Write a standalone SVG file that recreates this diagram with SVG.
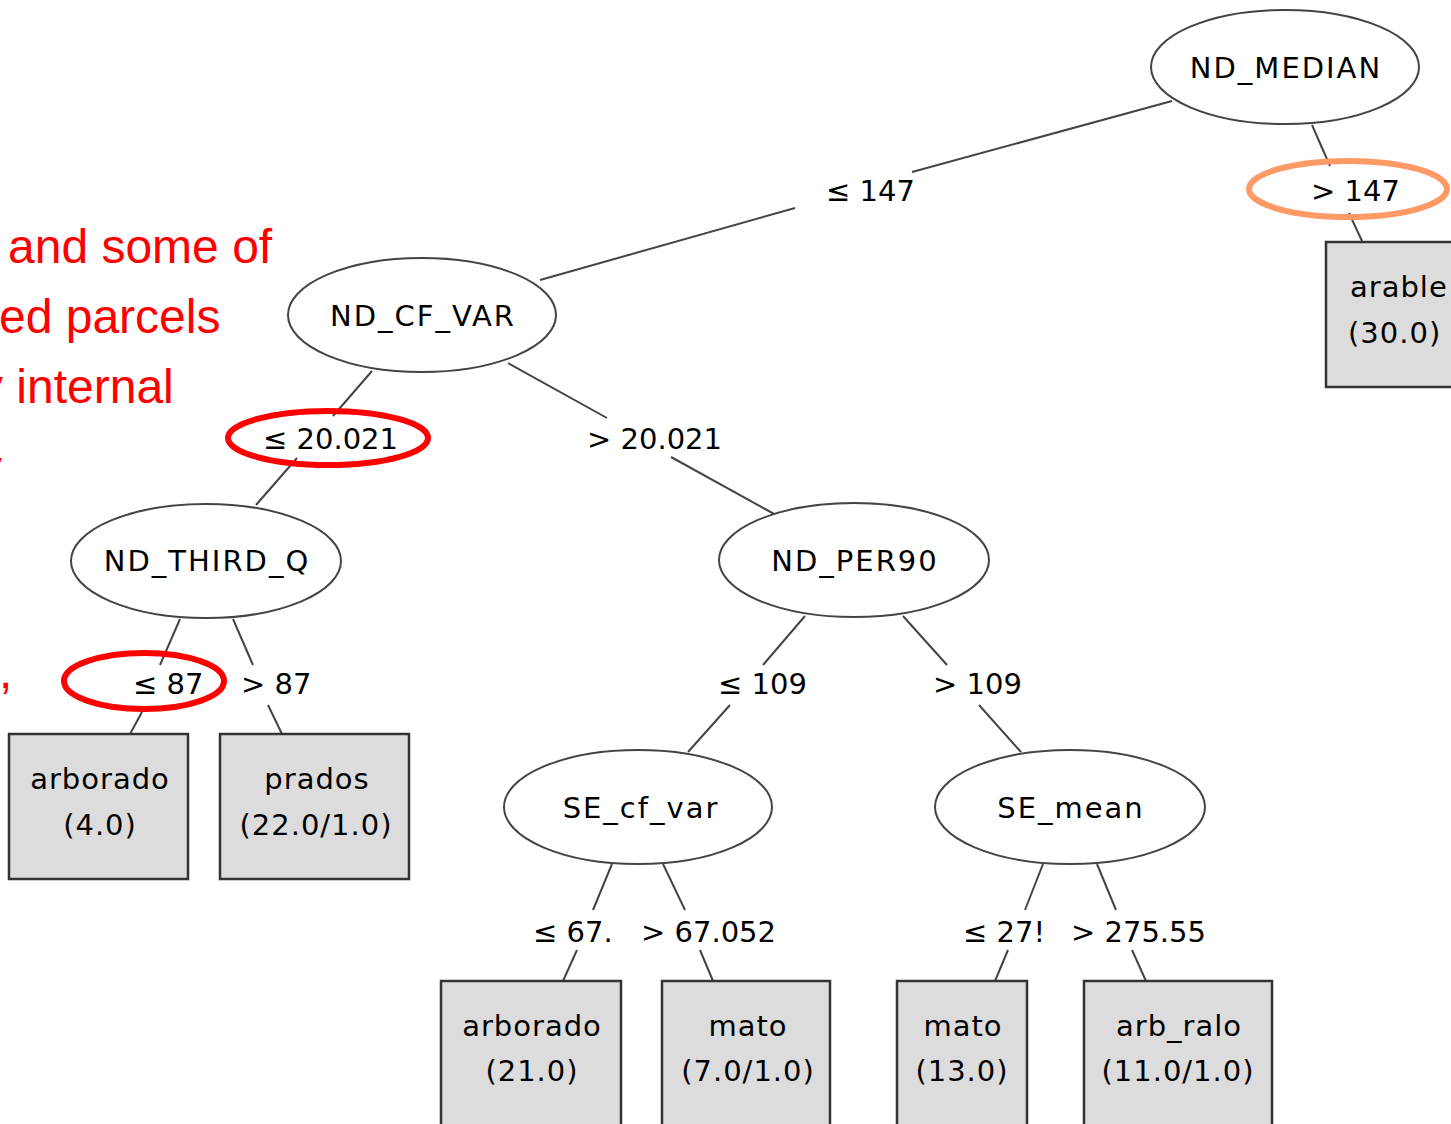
<svg xmlns="http://www.w3.org/2000/svg" width="1451" height="1124" viewBox="0 0 1451 1124">
<style>
  .node ellipse { fill: #ffffff; stroke: #444444; stroke-width: 2; }
  .leaf rect { fill: #dcdcdc; stroke: #333333; stroke-width: 2.5; }
  .ntxt { font-family: "DejaVu Sans", sans-serif; font-size: 29px; fill: #000; text-anchor: middle; letter-spacing: 2px; }
  .ltxt { font-family: "DejaVu Sans", sans-serif; font-size: 29px; fill: #000; text-anchor: middle; letter-spacing: 1px; }
  .etxt { font-family: "DejaVu Sans", sans-serif; font-size: 29px; fill: #000; }
  .conn line { stroke: #444444; stroke-width: 2; }
  .note { font-family: "Liberation Sans", Arial, sans-serif; font-size: 48px; fill: #ff0000; }
  .hl { fill: none; stroke-width: 6; }
</style>

<g id="annotation-text">
  <text class="note" x="8" y="263">and some of</text>
  <text class="note" x="-1" y="333">ed parcels</text>
  <text class="note" x="-21" y="403">y internal</text>
  <text class="note" x="-22" y="484">y</text>
  <text class="note" x="-1" y="688">,</text>
</g>

<g id="connectors" class="conn">
  <line x1="1172" y1="101" x2="912" y2="172"/>
  <line x1="795" y1="208" x2="540" y2="280"/>
  <line x1="1312" y1="125" x2="1330" y2="166"/>
  <line x1="1349" y1="213" x2="1362" y2="241"/>
  <line x1="372" y1="371" x2="333" y2="416"/>
  <line x1="297" y1="458" x2="256" y2="505"/>
  <line x1="508" y1="363" x2="607" y2="418"/>
  <line x1="671" y1="457" x2="776" y2="515"/>
  <line x1="180" y1="619" x2="160" y2="665"/>
  <line x1="142" y1="712" x2="130" y2="734"/>
  <line x1="233" y1="619" x2="253" y2="665"/>
  <line x1="268" y1="705" x2="282" y2="734"/>
  <line x1="805" y1="616" x2="763" y2="665"/>
  <line x1="730" y1="705" x2="688" y2="752"/>
  <line x1="903" y1="616" x2="947" y2="665"/>
  <line x1="979" y1="705" x2="1021" y2="752"/>
  <line x1="612" y1="864" x2="593" y2="910"/>
  <line x1="577" y1="950" x2="563" y2="981"/>
  <line x1="663" y1="864" x2="685" y2="910"/>
  <line x1="700" y1="950" x2="713" y2="981"/>
  <line x1="1043" y1="864" x2="1025" y2="910"/>
  <line x1="1008" y1="950" x2="995" y2="981"/>
  <line x1="1097" y1="864" x2="1116" y2="910"/>
  <line x1="1132" y1="950" x2="1146" y2="981"/>
</g>

<g id="edge-labels">
  <text class="etxt" x="826" y="201">≤ 147</text>
  <text class="etxt" x="1311" y="201">&gt; 147</text>
  <text class="etxt" x="263" y="449">≤ 20.021</text>
  <text class="etxt" x="587" y="449">&gt; 20.021</text>
  <text class="etxt" x="133" y="694">≤ 87</text>
  <text class="etxt" x="241" y="694">&gt; 87</text>
  <text class="etxt" x="718" y="694">≤ 109</text>
  <text class="etxt" x="933" y="694">&gt; 109</text>
  <text class="etxt" x="533" y="942">≤ 67.</text>
  <text class="etxt" x="641" y="942">&gt; 67.052</text>
  <text class="etxt" x="963" y="942">≤ 27!</text>
  <text class="etxt" x="1071" y="942">&gt; 275.55</text>
</g>

<g id="node-ND_MEDIAN" class="node">
  <ellipse cx="1285" cy="67" rx="134" ry="57"/>
  <text class="ntxt" x="1286" y="78">ND_MEDIAN</text>
</g>
<g id="node-ND_CF_VAR" class="node">
  <ellipse cx="422" cy="315" rx="134" ry="57"/>
  <text class="ntxt" x="423" y="326">ND_CF_VAR</text>
</g>
<g id="node-ND_THIRD_Q" class="node">
  <ellipse cx="206" cy="561" rx="135" ry="57"/>
  <text class="ntxt" x="207" y="571">ND_THIRD_Q</text>
</g>
<g id="node-ND_PER90" class="node">
  <ellipse cx="854" cy="560" rx="135" ry="57"/>
  <text class="ntxt" x="855" y="571">ND_PER90</text>
</g>
<g id="node-SE_cf_var" class="node">
  <ellipse cx="638" cy="807" rx="134" ry="57"/>
  <text class="ntxt" x="641" y="818">SE_cf_var</text>
</g>
<g id="node-SE_mean" class="node">
  <ellipse cx="1070" cy="807" rx="135" ry="57"/>
  <text class="ntxt" x="1071" y="818">SE_mean</text>
</g>

<g id="leaf-arable" class="leaf">
  <rect x="1326" y="242" width="140" height="145"/>
  <text class="ltxt" x="1350" y="297" style="text-anchor:start">arable</text>
  <text class="ltxt" x="1348" y="343" style="text-anchor:start">(30.0)</text>
</g>
<g id="leaf-arborado-4" class="leaf">
  <rect x="9" y="734" width="179" height="145"/>
  <text class="ltxt" x="100" y="789">arborado</text>
  <text class="ltxt" x="100" y="835">(4.0)</text>
</g>
<g id="leaf-prados" class="leaf">
  <rect x="220" y="734" width="189" height="145"/>
  <text class="ltxt" x="317" y="789">prados</text>
  <text class="ltxt" x="316" y="835">(22.0/1.0)</text>
</g>
<g id="leaf-arborado-21" class="leaf">
  <rect x="441" y="981" width="180" height="150"/>
  <text class="ltxt" x="532" y="1036">arborado</text>
  <text class="ltxt" x="532" y="1081">(21.0)</text>
</g>
<g id="leaf-mato-7" class="leaf">
  <rect x="662" y="981" width="168" height="150"/>
  <text class="ltxt" x="748" y="1036">mato</text>
  <text class="ltxt" x="748" y="1081">(7.0/1.0)</text>
</g>
<g id="leaf-mato-13" class="leaf">
  <rect x="897" y="981" width="130" height="150"/>
  <text class="ltxt" x="963" y="1036">mato</text>
  <text class="ltxt" x="962" y="1081">(13.0)</text>
</g>
<g id="leaf-arb_ralo" class="leaf">
  <rect x="1084" y="981" width="188" height="150"/>
  <text class="ltxt" x="1179" y="1036">arb_ralo</text>
  <text class="ltxt" x="1178" y="1081">(11.0/1.0)</text>
</g>

<g id="highlights">
  <ellipse class="hl" cx="1348" cy="189" rx="99" ry="28" stroke="#ff9966"/>
  <ellipse class="hl" cx="328" cy="438" rx="100" ry="27" stroke="#ff0000"/>
  <ellipse class="hl" cx="144" cy="681" rx="80" ry="28" stroke="#ff0000"/>
</g>
</svg>
